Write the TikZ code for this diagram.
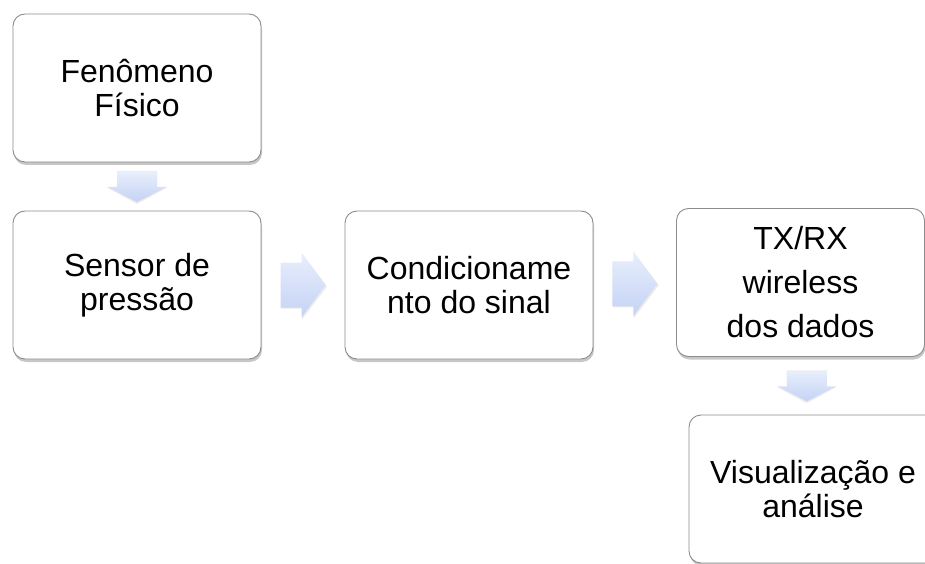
\documentclass[tikz,border=0pt]{standalone}
\usepackage{fontspec}
\setmainfont{Liberation Sans}
\usetikzlibrary{calc,shadows}
\definecolor{boxline}{RGB}{140,140,140}
\definecolor{arrtop}{RGB}{232,238,252}
\definecolor{arrbot}{RGB}{196,211,244}
\tikzset{
  box/.style={draw=boxline, line width=0.9pt, fill=white, rounded corners=12pt,
    minimum width=248pt, minimum height=148pt, align=center, inner sep=2pt,
    font=\fontsize{32}{33.5}\selectfont,
    drop shadow={shadow xshift=1pt, shadow yshift=-3pt, opacity=0.4, fill=black!55}},
  arrowshade/.style={top color=arrtop, bottom color=arrbot, draw=none},
  downblk/.pic={
    \fill[black, opacity=0.08] (-20,15.5) -- (20,15.5) -- (20,-1) -- (30,-1) -- (0,-17.5) -- (-30,-1) -- (-20,-1) -- cycle;
    \shade[arrowshade] (-20,15) -- (20,15) -- (20,-0.5) -- (29.5,-0.5) -- (0,-15.5) -- (-29.5,-0.5) -- (-20,-0.5) -- cycle;
  },
  rightblk/.pic={
    \fill[black, opacity=0.08] (-22,-23.5) -- (-1,-23.5) -- (-1,-34.5) -- (24,-1.5) -- (-1,31.5) -- (-1,21.5) -- (-22,21.5) -- cycle;
    \shade[arrowshade] (-22.5,-22.5) -- (-1.5,-22.5) -- (-1.5,-32.5) -- (22.5,0) -- (-1.5,32.5) -- (-1.5,22.5) -- (-22.5,22.5) -- cycle;
  }
}
\begin{document}
\begin{tikzpicture}[x=1pt,y=1pt]
\useasboundingbox (0,0) rectangle (925,563);
\clip (0,0) rectangle (925,563);
\node[box] (A) at (137,475) {Fenômeno\\Físico};
\node[box] (B) at (137,278) {Sensor de\\pressão};
\node[box] (C) at (469,278) {Condicioname\\nto do sinal};
\node[box] (D) at (800.5,280.5) {TX/RX\\[10.5pt]wireless\\[10.5pt]dos dados};
\node[box] (E) at (813,74) {Visualização e\\análise};
\path ($(A.south)!0.5!(B.north)$) pic {downblk};
\path ($(B.east)!0.5!(C.west)$) pic {rightblk};
\path ($(C.east)!0.5!(D.west)$) pic {rightblk};
\path ($(D.south)!0.5!(E.north)$) pic {downblk};
\end{tikzpicture}
\end{document}
